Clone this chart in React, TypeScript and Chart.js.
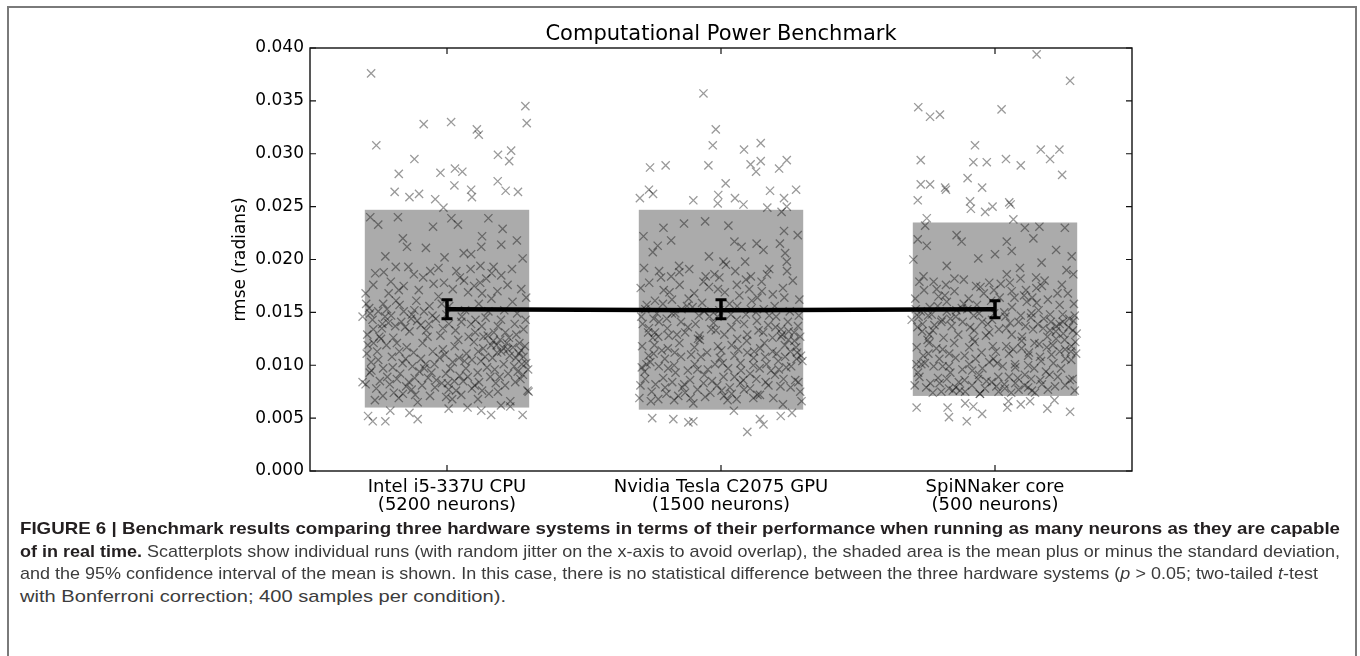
import React, { useEffect, useLayoutEffect, useRef } from 'react';
import { Chart, registerables } from 'chart.js';

Chart.register(...registerables);

// ---------- data ----------
const categories = [0, 1, 2];
const categoryLabels = [
  ['Intel i5-337U CPU', '(5200 neurons)'],
  ['Nvidia Tesla C2075 GPU', '(1500 neurons)'],
  ['SpiNNaker core', '(500 neurons)'],
];
const yMin = 0;
const yMax = 0.04;
const yStep = 0.005;

// mean ± standard deviation (shaded area)
const bandLow = [0.006, 0.0058, 0.0071];
const bandHigh = [0.0247, 0.0247, 0.0235];
const bandHalfWidth = 0.3; // jitter range on the category axis

// mean and 95% confidence interval
const meanRmse = [0.0153, 0.0152, 0.0153];
const ciLow = [0.0144, 0.0144, 0.0145];
const ciHigh = [0.0162, 0.0162, 0.0161];

// individual runs: [jitter, rmse]
const cpuRuns: [number, number][] = [
  [-0.277, 0.0376], [0.286, 0.0345], [0.291, 0.0329], [-0.085, 0.0328], [0.015, 0.033], [0.109, 0.0323], [0.116, 0.0318],
  [-0.258, 0.0308], [-0.119, 0.0295], [0.186, 0.0299], [0.234, 0.0303], [0.227, 0.0293], [-0.176, 0.0281], [-0.024, 0.0282],
  [0.029, 0.0286], [0.056, 0.0283], [0.027, 0.027], [-0.191, 0.0264], [-0.137, 0.0259], [-0.102, 0.0262], [-0.043, 0.0257],
  [-0.013, 0.0249], [0.088, 0.0266], [0.091, 0.0259], [0.185, 0.0274], [0.214, 0.0265], [0.259, 0.0264],
  [-0.28, 0.024], [-0.251, 0.0233], [-0.179, 0.024], [-0.051, 0.0231], [0.016, 0.0239], [0.04, 0.0233], [0.151, 0.0239],
  [0.203, 0.0229], [-0.161, 0.022], [-0.146, 0.0212], [-0.077, 0.0211], [0.128, 0.0222], [0.125, 0.0212], [0.198, 0.0214],
  [0.255, 0.0218], [0.276, 0.0201], [0.061, 0.0206], [0.088, 0.0205], [0.122, 0.0194], [0.17, 0.0193], [-0.009, 0.0202],
  [-0.225, 0.0203],
  [-0.288, 0.0052], [-0.271, 0.0047], [-0.225, 0.0047], [-0.207, 0.0057], [-0.137, 0.0055], [-0.107, 0.0049], [0.006, 0.0059],
  [0.075, 0.006], [0.125, 0.0057], [0.161, 0.0053], [0.197, 0.0062], [0.231, 0.0061], [0.276, 0.0053], [0.298, 0.0075],
  [-0.308, 0.0084], [-0.308, 0.0146],
  [-0.262, 0.0187], [-0.141, 0.0193], [0.034, 0.0189], [0.198, 0.0185], [-0.205, 0.0179], [-0.087, 0.0183], [0.121, 0.0178], [0.271, 0.0172],
  [-0.297, 0.0168], [-0.176, 0.0171], [-0.031, 0.0165], [0.077, 0.0169], [0.162, 0.0163], [0.239, 0.016], [-0.233, 0.0158], [-0.112, 0.0161],
  [0.008, 0.0156], [0.209, 0.0152], [-0.281, 0.0149], [-0.158, 0.0151], [-0.053, 0.0147], [0.141, 0.0145], [0.287, 0.0143], [-0.214, 0.014],
  [-0.096, 0.0138], [0.052, 0.0141], [0.186, 0.0137], [-0.269, 0.0134], [-0.137, 0.0132], [-0.015, 0.0135], [0.103, 0.0131], [0.253, 0.0129],
  [-0.241, 0.0125], [-0.071, 0.0127], [0.169, 0.0123], [0.226, 0.0126], [-0.289, 0.0119], [-0.183, 0.0121], [0.028, 0.0118], [0.132, 0.0116],
  [-0.122, 0.0112], [-0.008, 0.011], [0.198, 0.0113], [0.279, 0.0108], [-0.251, 0.0105], [-0.162, 0.0102], [0.064, 0.0104], [0.245, 0.0099],
  [-0.276, 0.0095], [-0.083, 0.0097], [0.112, 0.0093], [0.174, 0.0096], [-0.218, 0.0089], [-0.039, 0.0086], [0.046, 0.009], [0.268, 0.0087],
  [-0.297, 0.0082], [-0.149, 0.008], [0.091, 0.0078], [0.212, 0.0081], [-0.194, 0.0074], [-0.062, 0.0071], [0.153, 0.0073], [0.294, 0.0076],
  [-0.263, 0.0067], [-0.107, 0.0065], [0.019, 0.0068], [0.231, 0.0066],
  [-0.284, 0.0154], [-0.226, 0.0146], [-0.189, 0.0137], [-0.131, 0.0144], [-0.076, 0.0133], [-0.024, 0.0128], [0.041, 0.0124], [0.088, 0.0139],
  [0.133, 0.0127], [0.181, 0.0119], [0.222, 0.0115], [0.264, 0.0121], [-0.255, 0.0113], [-0.201, 0.0108], [-0.147, 0.0117], [-0.095, 0.0106],
  [-0.046, 0.0101], [0.012, 0.0097], [0.071, 0.0111], [0.124, 0.0104], [0.166, 0.0107], [0.207, 0.0101], [0.258, 0.0094], [0.289, 0.0102],
  [-0.233, 0.0097], [-0.171, 0.0092], [-0.118, 0.0088], [-0.057, 0.0093], [0.003, 0.0083], [0.059, 0.0085], [0.117, 0.0084], [0.192, 0.0089],
  [-0.291, 0.0129], [-0.238, 0.0135], [-0.173, 0.0157], [-0.119, 0.0152], [-0.064, 0.0156], [-0.002, 0.0148], [0.066, 0.0152], [0.116, 0.0158],
  [0.151, 0.0151], [0.197, 0.0143], [0.247, 0.0139], [0.279, 0.0134], [-0.269, 0.0176], [-0.213, 0.0168], [-0.158, 0.0175], [-0.103, 0.0171],
  [-0.049, 0.0177], [0.021, 0.0172], [0.062, 0.018], [0.099, 0.0175], [0.143, 0.0182], [0.184, 0.017], [0.256, 0.0149], [-0.196, 0.0126],
  [-0.089, 0.0121], [0.098, 0.0122], [0.213, 0.0131], [-0.015, 0.0115], [-0.277, 0.0103], [0.146, 0.0098], [-0.129, 0.0077], [0.033, 0.0076],
  [0.271, 0.0114], [-0.031, 0.0192], [0.237, 0.0191], [-0.245, 0.0085], [0.178, 0.0083], [-0.003, 0.007], [0.113, 0.0068], [-0.176, 0.0069],
  [-0.295, 0.0158], [-0.272, 0.0143], [-0.251, 0.0151], [-0.236, 0.0139], [-0.219, 0.0153], [-0.204, 0.0147], [-0.186, 0.0161], [-0.167, 0.0141],
  [-0.153, 0.0136], [-0.128, 0.0148], [-0.109, 0.0142], [-0.084, 0.0151], [-0.066, 0.0139], [-0.041, 0.0144], [-0.019, 0.0158], [0.007, 0.0139],
  [0.031, 0.0133], [0.054, 0.0146], [0.079, 0.0127], [0.104, 0.0143], [0.127, 0.0137], [0.149, 0.0128], [0.171, 0.0131], [0.194, 0.0124],
  [0.218, 0.0121], [0.241, 0.0117], [0.262, 0.0111], [0.284, 0.0118], [0.296, 0.0096], [0.273, 0.0101], [0.251, 0.0107], [0.229, 0.0109],
  [0.206, 0.0116], [0.183, 0.0112], [0.161, 0.0119], [0.139, 0.0108], [0.114, 0.0113], [0.091, 0.0105], [0.069, 0.0097], [0.044, 0.0107],
  [0.021, 0.0103], [-0.004, 0.0092], [-0.027, 0.0107], [-0.052, 0.0113], [-0.078, 0.0101], [-0.101, 0.0094], [-0.126, 0.0099], [-0.151, 0.0106],
  [-0.174, 0.0113], [-0.198, 0.0098], [-0.221, 0.0119], [-0.247, 0.0127], [-0.268, 0.0121], [-0.293, 0.0111], [-0.282, 0.0093], [-0.258, 0.0078],
  [-0.234, 0.0071], [-0.209, 0.0082], [-0.183, 0.0087], [-0.161, 0.0073], [-0.139, 0.0084], [-0.116, 0.0072], [-0.091, 0.0081], [-0.069, 0.0088],
  [-0.044, 0.0079], [-0.019, 0.0083], [0.006, 0.0077], [0.027, 0.0085], [0.052, 0.0072], [0.076, 0.0089], [0.101, 0.0081], [0.128, 0.0076],
  [0.158, 0.0089], [0.186, 0.0075], [0.223, 0.0092], [0.249, 0.0084], [0.277, 0.0091], [-0.231, 0.0188], [-0.187, 0.0193], [-0.121, 0.0186],
  [-0.061, 0.0189], [0.047, 0.0183], [0.086, 0.0191], [0.163, 0.0187], [0.221, 0.0176], [0.289, 0.0164], [-0.011, 0.0178], [0.128, 0.0168],
];

const gpuRuns: [number, number][] = [
  [-0.064, 0.0357], [-0.019, 0.0323], [-0.03, 0.0308], [0.084, 0.0304], [0.145, 0.031], [-0.259, 0.0287], [-0.202, 0.0289],
  [-0.046, 0.0289], [0.108, 0.029], [0.145, 0.0293], [0.128, 0.0283], [0.212, 0.0286], [0.24, 0.0294], [0.017, 0.0272],
  [-0.263, 0.0266], [-0.248, 0.0262], [-0.296, 0.0258], [-0.101, 0.0256], [-0.01, 0.0261], [-0.012, 0.0253], [0.051, 0.0258],
  [0.082, 0.0252], [0.179, 0.0265], [0.23, 0.0258], [0.274, 0.0266], [0.169, 0.0249], [0.24, 0.025], [0.221, 0.0245],
  [-0.21, 0.023], [-0.283, 0.0222], [-0.135, 0.0234], [-0.058, 0.0236], [0.027, 0.0232], [-0.182, 0.0218], [-0.231, 0.0213],
  [-0.249, 0.0207], [0.23, 0.0227], [0.28, 0.0223], [0.215, 0.0215], [0.13, 0.0215], [0.049, 0.0217], [0.075, 0.0212],
  [0.155, 0.0209], [-0.044, 0.0203], [-0.153, 0.0194], [0.009, 0.0198], [0.088, 0.0198], [0.234, 0.0206], [0.24, 0.0198],
  [-0.251, 0.005], [-0.174, 0.0049], [-0.119, 0.0046], [-0.101, 0.0047], [0.047, 0.0057], [0.096, 0.0037], [0.142, 0.0049],
  [0.155, 0.0044], [0.218, 0.0052], [0.259, 0.0055], [0.294, 0.0066], [-0.298, 0.0069],
  [-0.281, 0.0192], [-0.152, 0.0188], [0.018, 0.0195], [0.176, 0.0191], [-0.219, 0.0183], [-0.064, 0.0179], [0.109, 0.0184], [0.262, 0.018],
  [-0.293, 0.0173], [-0.188, 0.0169], [-0.011, 0.0172], [0.067, 0.0166], [0.149, 0.017], [0.231, 0.0164], [-0.241, 0.0161], [-0.118, 0.0163],
  [0.031, 0.0158], [0.196, 0.0156], [-0.276, 0.0153], [-0.167, 0.0149], [-0.042, 0.0146], [0.128, 0.015], [0.284, 0.0147], [-0.226, 0.0141],
  [-0.093, 0.0139], [0.057, 0.0143], [0.172, 0.0138], [-0.263, 0.0135], [-0.131, 0.0131], [-0.019, 0.0133], [0.096, 0.0129], [0.247, 0.0132],
  [-0.249, 0.0126], [-0.077, 0.0124], [0.158, 0.0121], [0.219, 0.0127], [-0.288, 0.0118], [-0.194, 0.0116], [0.039, 0.0119], [0.121, 0.0113],
  [-0.109, 0.011], [-0.004, 0.0107], [0.203, 0.0111], [0.276, 0.0106], [-0.258, 0.0103], [-0.171, 0.01], [0.071, 0.0102], [0.238, 0.0098],
  [-0.279, 0.0094], [-0.086, 0.0096], [0.106, 0.0092], [0.183, 0.0095], [-0.211, 0.0088], [-0.033, 0.0085], [0.049, 0.0089], [0.271, 0.0086],
  [-0.294, 0.0081], [-0.141, 0.0079], [0.084, 0.0077], [0.217, 0.008], [-0.199, 0.0073], [-0.058, 0.007], [0.142, 0.0072], [0.289, 0.0075],
  [-0.256, 0.0066], [-0.101, 0.0064], [0.024, 0.0067], [0.226, 0.0063],
  [-0.271, 0.0157], [-0.234, 0.0149], [-0.198, 0.0144], [-0.144, 0.0153], [-0.081, 0.0147], [-0.027, 0.014], [0.038, 0.0136], [0.091, 0.0148],
  [0.137, 0.0133], [0.188, 0.0126], [0.233, 0.0119], [0.268, 0.0123], [-0.246, 0.0111], [-0.205, 0.0106], [-0.152, 0.0121], [-0.097, 0.0117],
  [-0.051, 0.0112], [0.006, 0.0102], [0.063, 0.0115], [0.118, 0.01], [0.161, 0.0108], [0.209, 0.0104], [0.253, 0.0113], [0.292, 0.0109],
  [-0.227, 0.0099], [-0.166, 0.0093], [-0.113, 0.0086], [-0.061, 0.0091], [0.009, 0.0089], [0.071, 0.0083], [0.129, 0.0087], [0.197, 0.0091],
  [-0.286, 0.0139], [-0.241, 0.0131], [-0.179, 0.0162], [-0.124, 0.0156], [-0.069, 0.0159], [-0.006, 0.0152], [0.059, 0.0156], [0.112, 0.0161],
  [0.156, 0.0153], [0.201, 0.0146], [0.244, 0.0141], [0.281, 0.0137], [-0.262, 0.0178], [-0.209, 0.0171], [-0.151, 0.0176], [-0.098, 0.0168],
  [-0.044, 0.0174], [0.014, 0.0169], [0.058, 0.0176], [0.103, 0.0172], [0.148, 0.0179], [0.189, 0.0167], [0.251, 0.0151], [-0.191, 0.0128],
  [-0.084, 0.0125], [0.094, 0.0123], [0.219, 0.0134], [-0.011, 0.0118], [-0.272, 0.0101], [0.141, 0.0097], [-0.131, 0.0074], [0.039, 0.0073],
  [0.274, 0.0117], [-0.024, 0.0186], [0.241, 0.0189], [-0.239, 0.0082], [0.173, 0.0081], [0.002, 0.0076], [0.118, 0.0069], [-0.171, 0.0067],
  [-0.291, 0.0146], [-0.266, 0.0131], [-0.246, 0.0144], [-0.229, 0.0127], [-0.212, 0.0158], [-0.196, 0.0135], [-0.179, 0.0149], [-0.161, 0.0129],
  [-0.146, 0.0141], [-0.121, 0.0136], [-0.104, 0.0155], [-0.079, 0.0128], [-0.061, 0.0151], [-0.036, 0.0134], [-0.013, 0.0146], [0.012, 0.0129],
  [0.036, 0.0148], [0.059, 0.0125], [0.084, 0.0139], [0.109, 0.0153], [0.131, 0.0142], [0.154, 0.0131], [0.176, 0.0147], [0.199, 0.0136],
  [0.223, 0.0129], [0.246, 0.0124], [0.267, 0.0131], [0.289, 0.0127], [0.297, 0.0104], [0.278, 0.0112], [0.256, 0.0099], [0.234, 0.0108],
  [0.211, 0.0096], [0.188, 0.0113], [0.166, 0.0101], [0.143, 0.0116], [0.119, 0.0107], [0.096, 0.0112], [0.073, 0.0095], [0.049, 0.0109],
  [0.026, 0.0097], [0.001, 0.0114], [-0.022, 0.0101], [-0.048, 0.0096], [-0.073, 0.0108], [-0.096, 0.0101], [-0.121, 0.0095], [-0.146, 0.0108],
  [-0.169, 0.0112], [-0.193, 0.0097], [-0.216, 0.0114], [-0.243, 0.0119], [-0.264, 0.0109], [-0.289, 0.0098], [-0.277, 0.0087], [-0.253, 0.0075],
  [-0.229, 0.0068], [-0.204, 0.0079], [-0.178, 0.0084], [-0.156, 0.0071], [-0.134, 0.0082], [-0.111, 0.0069], [-0.086, 0.0077], [-0.064, 0.0083],
  [-0.039, 0.0074], [-0.014, 0.0081], [0.011, 0.0071], [0.032, 0.0079], [0.057, 0.0068], [0.081, 0.0086], [0.106, 0.0078], [0.133, 0.0072],
  [0.163, 0.0084], [0.191, 0.0069], [0.228, 0.0087], [0.254, 0.0079], [0.282, 0.0084], [-0.226, 0.0189], [-0.182, 0.0184], [-0.116, 0.0191],
  [-0.056, 0.0184], [0.052, 0.0189], [0.091, 0.0181], [0.168, 0.0186], [0.226, 0.0173], [0.286, 0.0162], [-0.006, 0.0183], [0.133, 0.0164],
];

const spinnakerRuns: [number, number][] = [
  [0.152, 0.0394], [0.274, 0.0369], [-0.28, 0.0344], [-0.237, 0.0335], [-0.201, 0.0337], [0.024, 0.0342], [-0.073, 0.0308],
  [-0.271, 0.0294], [-0.079, 0.0292], [-0.03, 0.0292], [0.04, 0.0295], [0.094, 0.0289], [0.167, 0.0304], [0.201, 0.0295],
  [0.235, 0.0304], [0.245, 0.028], [-0.271, 0.0271], [-0.237, 0.0271], [-0.182, 0.0268], [-0.179, 0.0266], [-0.1, 0.0277],
  [-0.047, 0.0268], [-0.282, 0.0256], [-0.091, 0.0255], [-0.088, 0.0248], [-0.036, 0.0245], [-0.009, 0.025], [0.052, 0.0254],
  [0.057, 0.0252], [0.067, 0.0238], [-0.249, 0.0239], [-0.255, 0.0232],
  [-0.282, 0.0219], [-0.249, 0.0213], [-0.14, 0.0223], [-0.122, 0.0217], [-0.298, 0.02], [-0.176, 0.0194], [-0.261, 0.0184],
  [-0.061, 0.0201], [0.0, 0.0205], [0.043, 0.0217], [0.061, 0.0208], [0.043, 0.0186], [0.109, 0.023], [0.162, 0.0231],
  [0.14, 0.022], [0.223, 0.0209], [0.255, 0.023], [0.28, 0.0203], [0.17, 0.0197], [0.091, 0.0192], [0.15, 0.0183],
  [0.261, 0.019], [0.286, 0.0186],
  [-0.286, 0.006], [-0.173, 0.006], [-0.168, 0.0051], [-0.109, 0.0064], [-0.103, 0.0047], [-0.079, 0.0061], [-0.047, 0.0054],
  [0.045, 0.006], [0.049, 0.0066], [0.094, 0.0063], [0.128, 0.0066], [0.191, 0.0059], [0.217, 0.0067], [0.274, 0.0056],
  [-0.055, 0.0073], [-0.304, 0.0143], [0.298, 0.013],
  [-0.276, 0.0179], [-0.148, 0.0182], [0.021, 0.0177], [0.181, 0.018], [-0.213, 0.0172], [-0.069, 0.0175], [0.113, 0.0171], [0.266, 0.0168],
  [-0.291, 0.0163], [-0.183, 0.0166], [-0.014, 0.0161], [0.071, 0.0164], [0.152, 0.0159], [0.236, 0.0157], [-0.238, 0.0155], [-0.114, 0.0158],
  [0.034, 0.015], [0.201, 0.0148], [-0.279, 0.0146], [-0.163, 0.0144], [-0.047, 0.0141], [0.131, 0.0145], [0.286, 0.0142], [-0.221, 0.0138],
  [-0.091, 0.0136], [0.055, 0.014], [0.176, 0.0135], [-0.266, 0.0132], [-0.134, 0.0129], [-0.021, 0.0131], [0.099, 0.0127], [0.249, 0.013],
  [-0.246, 0.0124], [-0.074, 0.0122], [0.161, 0.012], [0.223, 0.0125], [-0.286, 0.0117], [-0.191, 0.0115], [0.041, 0.0118], [0.124, 0.0112],
  [-0.111, 0.0109], [-0.006, 0.0106], [0.206, 0.011], [0.278, 0.0105], [-0.256, 0.0102], [-0.168, 0.0099], [0.073, 0.0101], [0.241, 0.0097],
  [-0.281, 0.0093], [-0.083, 0.0095], [0.109, 0.0091], [0.186, 0.0094], [-0.208, 0.0088], [-0.031, 0.0085], [0.051, 0.0089], [0.273, 0.0086],
  [-0.293, 0.0081], [-0.143, 0.0079], [0.086, 0.0077], [0.219, 0.008], [-0.196, 0.0075], [-0.055, 0.0073], [0.146, 0.0074], [0.291, 0.0076],
  [-0.271, 0.0151], [-0.231, 0.0148], [-0.196, 0.0141], [-0.141, 0.0152], [-0.078, 0.0147], [-0.026, 0.0139], [0.041, 0.0135], [0.094, 0.0147],
  [0.139, 0.0134], [0.191, 0.0127], [0.236, 0.0139], [0.271, 0.0144], [-0.243, 0.0111], [-0.203, 0.0106], [-0.149, 0.0121], [-0.094, 0.0117],
  [-0.049, 0.0112], [0.008, 0.0102], [0.066, 0.0115], [0.121, 0.01], [0.164, 0.0108], [0.211, 0.0119], [0.256, 0.0115], [0.293, 0.0122],
  [-0.224, 0.0099], [-0.163, 0.0093], [-0.111, 0.0086], [-0.058, 0.0091], [0.012, 0.0089], [0.074, 0.0083], [0.132, 0.0087], [0.199, 0.0091],
  [-0.283, 0.0136], [-0.239, 0.0129], [-0.176, 0.016], [-0.121, 0.0154], [-0.066, 0.0157], [-0.003, 0.0149], [0.062, 0.0155], [0.116, 0.016],
  [0.159, 0.0152], [0.204, 0.0141], [0.247, 0.0148], [0.284, 0.0133], [-0.259, 0.0171], [-0.206, 0.0165], [-0.148, 0.017], [-0.096, 0.0163],
  [-0.041, 0.0168], [0.017, 0.0164], [0.061, 0.017], [0.106, 0.0166], [0.151, 0.0173], [0.193, 0.0162], [0.254, 0.0124], [-0.188, 0.0126],
  [-0.081, 0.0125], [0.097, 0.0123], [0.222, 0.0132], [-0.008, 0.0118], [-0.269, 0.0101], [0.143, 0.0097], [-0.128, 0.0076], [0.036, 0.0078],
  [0.277, 0.0113], [-0.021, 0.0178], [0.244, 0.0176], [-0.236, 0.0083], [0.171, 0.0082], [0.005, 0.008], [0.121, 0.0079], [-0.168, 0.0078],
  [-0.289, 0.0153], [-0.264, 0.0139], [-0.244, 0.0147], [-0.227, 0.0133], [-0.209, 0.0156], [-0.193, 0.0143], [-0.176, 0.0151], [-0.158, 0.0137],
  [-0.143, 0.0146], [-0.118, 0.0141], [-0.101, 0.0153], [-0.076, 0.0133], [-0.058, 0.0149], [-0.033, 0.0128], [-0.011, 0.0143], [0.014, 0.0134],
  [0.038, 0.0146], [0.061, 0.0129], [0.086, 0.0141], [0.111, 0.0137], [0.133, 0.0149], [0.156, 0.0139], [0.178, 0.0144], [0.201, 0.0133],
  [0.224, 0.0137], [0.248, 0.0141], [0.269, 0.0136], [0.291, 0.0147], [0.296, 0.0111], [0.279, 0.0118], [0.257, 0.0106], [0.236, 0.0113],
  [0.213, 0.0102], [0.189, 0.0117], [0.168, 0.0104], [0.144, 0.0121], [0.121, 0.0109], [0.097, 0.0116], [0.074, 0.0098], [0.051, 0.0111],
  [0.028, 0.0099], [0.003, 0.0113], [-0.021, 0.0103], [-0.046, 0.0097], [-0.071, 0.0106], [-0.094, 0.0101], [-0.119, 0.0096], [-0.144, 0.0107],
  [-0.167, 0.0111], [-0.191, 0.0099], [-0.214, 0.0116], [-0.241, 0.0121], [-0.262, 0.0109], [-0.287, 0.0101], [-0.276, 0.0089], [-0.251, 0.0079],
  [-0.227, 0.0074], [-0.202, 0.0083], [-0.176, 0.0087], [-0.154, 0.0076], [-0.132, 0.0084], [-0.109, 0.0075], [-0.084, 0.0081], [-0.062, 0.0087],
  [-0.037, 0.0078], [-0.012, 0.0084], [0.013, 0.0075], [0.034, 0.0082], [0.059, 0.0074], [0.083, 0.0088], [0.108, 0.0081], [0.135, 0.0076],
  [0.165, 0.0086], [0.193, 0.0077], [0.229, 0.0089], [0.256, 0.0081], [0.283, 0.0087], [-0.224, 0.0179], [-0.179, 0.0176], [-0.114, 0.0181],
  [-0.053, 0.0174], [0.054, 0.0178], [0.093, 0.0182], [0.171, 0.0175], [0.228, 0.0168], [0.288, 0.0158], [-0.004, 0.0171], [0.136, 0.0164],
];

const runsByCategory = [cpuRuns, gpuRuns, spinnakerRuns];

const titleText = 'Computational Power Benchmark';
const yAxisTitle = 'rmse (radians)';

// ---------- styles ----------
const FONT = "'DejaVu Sans', sans-serif";
const CAPTION_FONT = "'Liberation Sans Narrow', 'Liberation Sans', Arial, sans-serif";

const decorPlugin = {
  id: 'decor',
  beforeDatasetsDraw(chart: any) {
    const { ctx, scales } = chart;
    const x = scales.x;
    const y = scales.y;
    ctx.save();
    ctx.fillStyle = '#ababab';
    categories.forEach((c, i) => {
      const l = x.getPixelForValue(c - bandHalfWidth);
      const r = x.getPixelForValue(c + bandHalfWidth);
      const t = y.getPixelForValue(bandHigh[i]);
      const b = y.getPixelForValue(bandLow[i]);
      ctx.fillRect(l, t, r - l, b - t);
    });
    ctx.restore();
  },
  afterDatasetsDraw(chart: any) {
    const { ctx, scales, chartArea } = chart;
    const x = scales.x;
    const y = scales.y;
    ctx.save();
    ctx.strokeStyle = '#000';
    categories.forEach((c, i) => {
      const px = x.getPixelForValue(c);
      const t = y.getPixelForValue(ciHigh[i]);
      const b = y.getPixelForValue(ciLow[i]);
      ctx.lineWidth = 3.5;
      ctx.beginPath();
      ctx.moveTo(px, t);
      ctx.lineTo(px, b);
      ctx.stroke();
      ctx.lineWidth = 3;
      ctx.beginPath();
      ctx.moveTo(px - 5.5, t);
      ctx.lineTo(px + 5.5, t);
      ctx.moveTo(px - 5.5, b);
      ctx.lineTo(px + 5.5, b);
      ctx.stroke();
    });
    const { left, right, top, bottom } = chartArea;
    ctx.lineWidth = 1.4;
    ctx.strokeStyle = '#111';
    ctx.strokeRect(left, top, right - left, bottom - top);
    ctx.lineWidth = 1.2;
    ctx.beginPath();
    y.ticks.forEach((t: any) => {
      const py = y.getPixelForValue(t.value);
      ctx.moveTo(left, py);
      ctx.lineTo(left + 6, py);
      ctx.moveTo(right, py);
      ctx.lineTo(right - 6, py);
    });
    x.ticks.forEach((t: any) => {
      const px = x.getPixelForValue(t.value);
      ctx.moveTo(px, top);
      ctx.lineTo(px, top + 6);
      ctx.moveTo(px, bottom);
      ctx.lineTo(px, bottom - 6);
    });
    ctx.stroke();
    // title centred over the plot area (matplotlib style)
    ctx.fillStyle = '#000';
    ctx.font = `21px ${FONT}`;
    ctx.textAlign = 'center';
    ctx.textBaseline = 'middle';
    ctx.fillText(titleText, (left + right) / 2, top - 13.5);
    ctx.restore();
  },
};

const captionLines: React.ReactNode[] = [
  <span style={{ fontWeight: 700, color: '#231f20' }}>
    FIGURE 6 | Benchmark results comparing three hardware systems in terms of their performance when running as many neurons as they are capable
  </span>,
  <span>
    <span style={{ fontWeight: 700, color: '#231f20' }}>of in real time.</span> Scatterplots show individual runs (with random jitter on the x-axis to avoid overlap), the shaded area is the mean plus or minus the standard deviation,
  </span>,
  <span>
    and the 95% confidence interval of the mean is shown. In this case, there is no statistical difference between the three hardware systems (<i>p</i> &gt; 0.05; two-tailed <i>t</i>-test
  </span>,
  <span>with Bonferroni correction; 400 samples per condition).</span>,
];
const captionTargetWidths = [1320, 1320, 1298, 486];
const captionTops = [518, 541, 563, 586];

export default function App() {
  const canvasRef = useRef<HTMLCanvasElement | null>(null);
  const lineRefs = useRef<(HTMLSpanElement | null)[]>([]);

  useEffect(() => {
    if (!canvasRef.current) return;
    const scatterSets = runsByCategory.map((runs, i) => ({
      type: 'scatter' as const,
      data: runs.map(([j, v]) => ({ x: categories[i] + j, y: v })),
      pointStyle: 'crossRot',
      pointRadius: 5.8,
      pointHoverRadius: 5.8,
      borderColor: 'rgba(0,0,0,0.4)',
      backgroundColor: 'rgba(0,0,0,0)',
      pointBorderWidth: 1.3,
      borderWidth: 1.3,
      showLine: false,
    }));
    const chart = new Chart(canvasRef.current, {
      type: 'scatter',
      data: {
        datasets: [
          {
            type: 'line' as const,
            data: categories.map((c, i) => ({ x: c, y: meanRmse[i] })),
            borderColor: '#000',
            borderWidth: 4.5,
            pointRadius: 0,
            fill: false,
            tension: 0,
          } as any,
          ...scatterSets,
        ],
      },
      plugins: [decorPlugin],
      options: {
        responsive: false,
        animation: false,
        events: [],
        layout: { padding: { left: 230, right: 228, top: 48, bottom: 0 } },
        plugins: {
          legend: { display: false },
          tooltip: { enabled: false },
          title: { display: false },
        },
        scales: {
          x: {
            type: 'linear',
            min: -0.5,
            max: 2.5,
            grid: { display: false, drawTicks: false },
            border: { display: false },
            afterBuildTicks: (scale: any) => {
              scale.ticks = categories.map((c) => ({ value: c }));
            },
            afterFit: (scale: any) => {
              scale.height = 49;
            },
            ticks: {
              color: '#000',
              padding: 7,
              maxRotation: 0,
              autoSkip: false,
              font: { family: FONT, size: 18, lineHeight: 1.0 },
              callback: (v: any) => categoryLabels[categories.indexOf(Number(v))] ?? '',
            },
          },
          y: {
            type: 'linear',
            min: yMin,
            max: yMax,
            grid: { display: false, drawTicks: false },
            border: { display: false },
            afterFit: (scale: any) => {
              scale.width = 80;
            },
            title: {
              display: true,
              text: yAxisTitle,
              color: '#000',
              font: { family: FONT, size: 17 },
              padding: { top: 0, bottom: 0 },
            },
            ticks: {
              stepSize: yStep,
              color: '#000',
              padding: 6,
              font: { family: FONT, size: 17 },
              callback: (v: any) => Number(v).toFixed(3),
            },
          },
        },
      } as any,
    });
    return () => chart.destroy();
  }, []);

  useLayoutEffect(() => {
    lineRefs.current.forEach((el, i) => {
      if (!el) return;
      el.style.transform = 'none';
      const w = el.getBoundingClientRect().width;
      if (w > 0) el.style.transform = `scaleX(${captionTargetWidths[i] / w})`;
    });
  }, []);

  return (
    <div style={{ position: 'absolute', left: 0, top: 0, width: 1360, height: 656, overflow: 'hidden', background: '#fff' }}>
      <div
        style={{
          position: 'absolute',
          left: 7,
          top: 6,
          width: 1350,
          height: 700,
          boxSizing: 'border-box',
          border: '2px solid #7a7a7a',
        }}
      />
      <canvas ref={canvasRef} width={1360} height={520} style={{ position: 'absolute', left: 0, top: 0, width: 1360, height: 520 }} />
      {captionLines.map((node, i) => (
        <div
          key={i}
          style={{
            position: 'absolute',
            left: 20,
            top: captionTops[i],
            height: 22,
            lineHeight: '22px',
            whiteSpace: 'nowrap',
            fontFamily: CAPTION_FONT,
            fontSize: 17,
            color: '#3c3c3c',
          }}
        >
          <span
            ref={(el) => {
              lineRefs.current[i] = el;
            }}
            style={{ display: 'inline-block', transformOrigin: 'left center' }}
          >
            {node}
          </span>
        </div>
      ))}
    </div>
  );
}
